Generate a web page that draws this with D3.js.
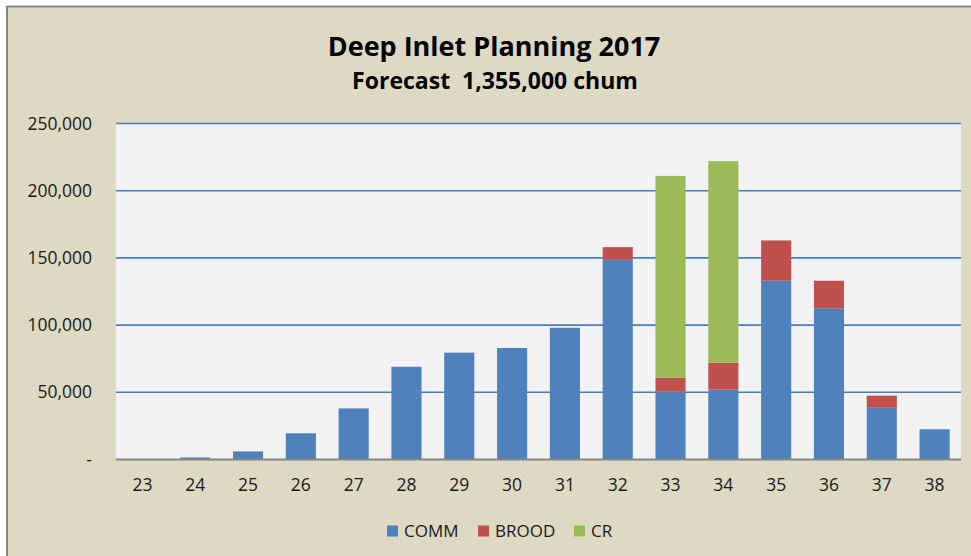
<!DOCTYPE html>
<html>
<head>
<meta charset="utf-8">
<script src="https://cdn.jsdelivr.net/npm/d3@7"></script>
<style>
  html, body { margin: 0; padding: 0; background: #fff; }
  svg { display: block; font-family: "Open Sans", sans-serif; }
</style>
</head>
<body>
<script>
// chart data
var weeks = ["23", "24", "25", "26", "27", "28", "29", "30", "31", "32", "33", "34", "35", "36", "37", "38"];
var comm  = [0, 1500, 6000, 19500, 38000, 69000, 79500, 83000, 98000, 148500, 50500, 52000, 133000, 112500, 38500, 22500];
var brood = [0, 0, 0, 0, 0, 0, 0, 0, 0, 9500, 10500, 20000, 30000, 20500, 9000, 0];
var cr    = [0, 0, 0, 0, 0, 0, 0, 0, 0, 0, 150000, 150000, 0, 0, 0, 0];
var seriesNames = ["COMM", "BROOD", "CR"];
var seriesColors = ["#4f81bd", "#c0504d", "#9bbb59"];
var yTicks = [0, 50000, 100000, 150000, 200000, 250000];

var width = 971, height = 556;

var svg = d3.select("body").append("svg")
  .attr("width", width)
  .attr("height", height);

// chart area background + border (top/left only visible)
svg.append("rect")
  .attr("x", 7).attr("y", 6)
  .attr("width", width).attr("height", height)
  .attr("fill", "#ddd9c3");
svg.append("line")
  .attr("x1", 7).attr("x2", width).attr("y1", 6.5).attr("y2", 6.5)
  .attr("stroke", "#868686").attr("stroke-width", 2);
svg.append("line")
  .attr("x1", 7).attr("x2", 7).attr("y1", 6).attr("y2", height)
  .attr("stroke", "#868686").attr("stroke-width", 2);

var plot = { left: 116, right: 961, top: 123.5, bottom: 459.5 };

var x = d3.scaleBand()
  .domain(weeks)
  .range([plot.left, plot.right])
  .paddingInner(0.43)
  .paddingOuter(0.215);

var y = d3.scaleLinear()
  .domain([0, 250000])
  .range([plot.bottom, plot.top]);

svg.append("rect")
  .attr("x", plot.left).attr("y", plot.top)
  .attr("width", plot.right - plot.left)
  .attr("height", plot.bottom - plot.top)
  .attr("fill", "#f2f2f2");

// gridlines
svg.append("g")
  .selectAll("line")
  .data(yTicks.filter(function (d) { return d > 0; }))
  .enter()
  .append("line")
  .attr("x1", plot.left).attr("x2", plot.right)
  .attr("y1", function (d) { return y(d); })
  .attr("y2", function (d) { return y(d); })
  .attr("stroke", "#4a7ebb")
  .attr("stroke-width", 1.6);

// stacked bars
var rows = weeks.map(function (w, i) {
  return { week: w, COMM: comm[i], BROOD: brood[i], CR: cr[i] };
});
var stack = d3.stack().keys(seriesNames);
var layers = stack(rows);

svg.append("g")
  .selectAll("g")
  .data(layers)
  .enter()
  .append("g")
  .attr("fill", function (d, i) { return seriesColors[i]; })
  .selectAll("rect")
  .data(function (d) { return d; })
  .enter()
  .append("rect")
  .attr("x", function (d) { return x(d.data.week); })
  .attr("width", x.bandwidth())
  .attr("y", function (d) { return y(d[1]); })
  .attr("height", function (d) { return y(d[0]) - y(d[1]); });

// baseline
svg.append("line")
  .attr("x1", plot.left).attr("x2", plot.right)
  .attr("y1", plot.bottom).attr("y2", plot.bottom)
  .attr("stroke", "#868686").attr("stroke-width", 2);

// axes
var fmt = d3.format(",");
var yAxis = svg.append("g")
  .attr("transform", "translate(" + plot.left + ",0)")
  .call(d3.axisLeft(y).tickValues(yTicks).tickSize(0).tickPadding(24)
    .tickFormat(function (d) { return d === 0 ? "-" : fmt(d); }));
yAxis.select(".domain").remove();

var xAxis = svg.append("g")
  .attr("transform", "translate(0," + plot.bottom + ")")
  .call(d3.axisBottom(x).tickSize(0).tickPadding(19));
xAxis.select(".domain").remove();

svg.selectAll(".tick text")
  .attr("fill", "#1a1a1a")
  .style("font-size", "17.5px")
  .style("font-family", "'Open Sans', sans-serif");

// titles
svg.append("text")
  .attr("x", 494).attr("y", 56)
  .attr("text-anchor", "middle")
  .style("font-size", "27px")
  .style("font-weight", "700")
  .attr("fill", "#000")
  .text("Deep Inlet Planning 2017");

svg.append("text")
  .attr("x", 495).attr("y", 89)
  .attr("text-anchor", "middle")
  .style("font-size", "23px")
  .style("font-weight", "700")
  .style("white-space", "pre")
  .attr("fill", "#000")
  .text("Forecast  1,355,000 chum");

// legend
var legendX = [387, 478, 574];
var legend = svg.append("g")
  .selectAll("g")
  .data(seriesNames)
  .enter()
  .append("g")
  .attr("transform", function (d, i) { return "translate(" + legendX[i] + ",531)"; });

legend.append("rect")
  .attr("x", 0).attr("y", -5.5)
  .attr("width", 11).attr("height", 11)
  .attr("fill", function (d, i) { return seriesColors[i]; });

legend.append("text")
  .attr("x", 17).attr("y", 0)
  .attr("dy", "0.35em")
  .attr("fill", "#1a1a1a")
  .style("font-size", "17px")
  .text(function (d) { return d; });
</script>
</body>
</html>
